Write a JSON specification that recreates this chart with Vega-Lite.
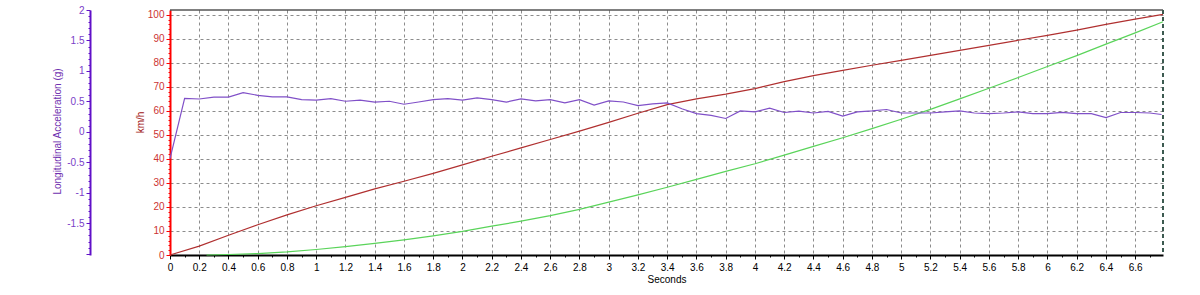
{
  "$schema": "https://vega.github.io/schema/vega-lite/v6.json",
  "width": 993,
  "height": 245,
  "autosize": {"type": "none"},
  "padding": {"left": 170, "top": 10, "right": 37, "bottom": 40},
  "background": "white",
  "config": {
    "view": {"stroke": null},
    "font": "Liberation Sans",
    "axis": {"labelFont": "Liberation Sans", "titleFont": "Liberation Sans", "titleFontWeight": "normal", "labelFontSize": 10, "titleFontSize": 10}
  },
  "datasets": {
    "speed": [
      {"t": 0, "kmh": 0}, {"t": 0.2, "kmh": 3.7}, {"t": 0.4, "kmh": 8.2}, {"t": 0.6, "kmh": 12.6}, {"t": 0.8, "kmh": 16.7},
      {"t": 1, "kmh": 20.5}, {"t": 1.2, "kmh": 24}, {"t": 1.4, "kmh": 27.5}, {"t": 1.6, "kmh": 30.7}, {"t": 1.8, "kmh": 34},
      {"t": 2, "kmh": 37.5}, {"t": 2.2, "kmh": 41.1}, {"t": 2.4, "kmh": 44.6}, {"t": 2.6, "kmh": 48.1}, {"t": 2.8, "kmh": 51.6},
      {"t": 3, "kmh": 55.2}, {"t": 3.2, "kmh": 59}, {"t": 3.4, "kmh": 62.6}, {"t": 3.6, "kmh": 65}, {"t": 3.8, "kmh": 67},
      {"t": 4, "kmh": 69.3}, {"t": 4.2, "kmh": 72.2}, {"t": 4.4, "kmh": 74.7}, {"t": 4.6, "kmh": 76.9}, {"t": 4.8, "kmh": 79},
      {"t": 5, "kmh": 81}, {"t": 5.2, "kmh": 83.1}, {"t": 5.4, "kmh": 85.2}, {"t": 5.6, "kmh": 87.3}, {"t": 5.8, "kmh": 89.4},
      {"t": 6, "kmh": 91.4}, {"t": 6.2, "kmh": 93.6}, {"t": 6.4, "kmh": 96}, {"t": 6.6, "kmh": 98.2}, {"t": 6.79, "kmh": 100.2}
    ],
    "dist": [
      {"t": 0.25, "d": 0}, {"t": 0.4, "d": 0.2}, {"t": 0.6, "d": 0.6}, {"t": 0.8, "d": 1.3},
      {"t": 1, "d": 2.3}, {"t": 1.2, "d": 3.5}, {"t": 1.4, "d": 4.8}, {"t": 1.6, "d": 6.3}, {"t": 1.8, "d": 8},
      {"t": 2, "d": 9.8}, {"t": 2.2, "d": 12}, {"t": 2.4, "d": 14.1}, {"t": 2.6, "d": 16.4}, {"t": 2.8, "d": 19},
      {"t": 3, "d": 22}, {"t": 3.2, "d": 25}, {"t": 3.4, "d": 28.2}, {"t": 3.6, "d": 31.5}, {"t": 3.8, "d": 34.8},
      {"t": 4, "d": 38}, {"t": 4.2, "d": 41.6}, {"t": 4.4, "d": 45.2}, {"t": 4.6, "d": 48.8}, {"t": 4.8, "d": 52.6},
      {"t": 5, "d": 56.5}, {"t": 5.2, "d": 60.6}, {"t": 5.4, "d": 65}, {"t": 5.6, "d": 69.4}, {"t": 5.8, "d": 73.9},
      {"t": 6, "d": 78.5}, {"t": 6.2, "d": 83}, {"t": 6.4, "d": 87.8}, {"t": 6.6, "d": 92.5}, {"t": 6.79, "d": 97.1}
    ],
    "acc": [
      {"t": 0, "g": -0.44}, {"t": 0.1, "g": 0.55}, {"t": 0.2, "g": 0.54}, {"t": 0.3, "g": 0.57}, {"t": 0.4, "g": 0.57},
      {"t": 0.5, "g": 0.645}, {"t": 0.6, "g": 0.6}, {"t": 0.7, "g": 0.575}, {"t": 0.8, "g": 0.575}, {"t": 0.9, "g": 0.53},
      {"t": 1, "g": 0.52}, {"t": 1.1, "g": 0.547}, {"t": 1.2, "g": 0.503}, {"t": 1.3, "g": 0.52}, {"t": 1.4, "g": 0.487},
      {"t": 1.5, "g": 0.503}, {"t": 1.6, "g": 0.454}, {"t": 1.7, "g": 0.49}, {"t": 1.8, "g": 0.53}, {"t": 1.9, "g": 0.545},
      {"t": 2, "g": 0.52}, {"t": 2.1, "g": 0.557}, {"t": 2.2, "g": 0.53}, {"t": 2.3, "g": 0.49}, {"t": 2.4, "g": 0.54},
      {"t": 2.5, "g": 0.51}, {"t": 2.6, "g": 0.53}, {"t": 2.7, "g": 0.475}, {"t": 2.8, "g": 0.53}, {"t": 2.9, "g": 0.44},
      {"t": 3, "g": 0.51}, {"t": 3.1, "g": 0.49}, {"t": 3.2, "g": 0.43}, {"t": 3.3, "g": 0.46}, {"t": 3.4, "g": 0.475},
      {"t": 3.5, "g": 0.38}, {"t": 3.6, "g": 0.3}, {"t": 3.7, "g": 0.27}, {"t": 3.8, "g": 0.22}, {"t": 3.9, "g": 0.344},
      {"t": 4, "g": 0.328}, {"t": 4.1, "g": 0.39}, {"t": 4.2, "g": 0.318}, {"t": 4.3, "g": 0.34}, {"t": 4.4, "g": 0.31},
      {"t": 4.5, "g": 0.335}, {"t": 4.6, "g": 0.26}, {"t": 4.7, "g": 0.328}, {"t": 4.8, "g": 0.344}, {"t": 4.9, "g": 0.367},
      {"t": 5, "g": 0.31}, {"t": 5.1, "g": 0.31}, {"t": 5.2, "g": 0.31}, {"t": 5.3, "g": 0.328}, {"t": 5.4, "g": 0.344},
      {"t": 5.5, "g": 0.31}, {"t": 5.6, "g": 0.3}, {"t": 5.7, "g": 0.31}, {"t": 5.8, "g": 0.328}, {"t": 5.9, "g": 0.3},
      {"t": 6, "g": 0.3}, {"t": 6.1, "g": 0.32}, {"t": 6.2, "g": 0.3}, {"t": 6.3, "g": 0.3}, {"t": 6.4, "g": 0.236},
      {"t": 6.5, "g": 0.318}, {"t": 6.6, "g": 0.318}, {"t": 6.7, "g": 0.31}, {"t": 6.78, "g": 0.285}
    ],
    "edges": [{"t": 6.79, "kmh": 102}]
  },
  "layer": [
    {
      "layer": [
        {
          "data": {"name": "speed"},
          "mark": {"type": "line", "color": "#b03030", "strokeWidth": 1.2},
          "encoding": {
            "x": {
              "field": "t", "type": "quantitative",
              "scale": {"domain": [0, 6.79], "nice": false, "zero": false},
              "axis": {
                "title": "Seconds",
                "tickCount": 1000,
                "values": [0,0.1,0.2,0.3,0.4,0.5,0.6,0.7,0.8,0.9,1,1.1,1.2,1.3,1.4,1.5,1.6,1.7,1.8,1.9,2,2.1,2.2,2.3,2.4,2.5,2.6,2.7,2.8,2.9,3,3.1,3.2,3.3,3.4,3.5,3.6,3.7,3.8,3.9,4,4.1,4.2,4.3,4.4,4.5,4.6,4.7,4.8,4.9,5,5.1,5.2,5.3,5.4,5.5,5.6,5.7,5.8,5.9,6,6.1,6.2,6.3,6.4,6.5,6.6,6.7],
                "labelExpr": "abs(datum.value*5 - round(datum.value*5)) < 0.001 ? '' + datum.value : ''",
                "labelColor": "#000000",
                "labelPadding": 3,
                "labelFlush": false,
                "labelOverlap": false,
                "domainColor": "#000000",
                "domainWidth": 2,
                "tickColor": "#000000",
                "tickSize": {"condition": {"test": "abs(datum.value*5 - round(datum.value*5)) < 0.001", "value": 4}, "value": 2},
                "grid": true,
                "gridColor": "#8c8c8c",
                "gridDash": [3, 3],
                "gridWidth": 1,
                "gridOpacity": {"condition": {"test": "abs(datum.value*5 - round(datum.value*5)) < 0.001 && datum.value > 0", "value": 1}, "value": 0},
                "titleColor": "#000000",
                "titlePadding": 2
              }
            },
            "y": {
              "field": "kmh", "type": "quantitative",
              "scale": {"domain": [0, 102], "nice": false, "zero": true},
              "axis": {
                "title": "km/h",
                "orient": "left",
                "tickCount": 1000,
                "values": [0,2,4,6,8,10,12,14,16,18,20,22,24,26,28,30,32,34,36,38,40,42,44,46,48,50,52,54,56,58,60,62,64,66,68,70,72,74,76,78,80,82,84,86,88,90,92,94,96,98,100],
                "labelExpr": "datum.value % 10 == 0 ? '' + datum.value : ''",
                "labelColor": "#cc3333",
                "labelPadding": 2,
                "labelOverlap": false,
                "domainColor": "#ff0000",
                "domainWidth": 2,
                "tickColor": "#ff0000",
                "tickSize": {"condition": {"test": "datum.value % 10 == 0", "value": 4}, "value": 2},
                "grid": true,
                "gridColor": "#8c8c8c",
                "gridDash": [3, 3],
                "gridOpacity": {"condition": {"test": "datum.value % 10 == 0 && datum.value > 0", "value": 1}, "value": 0},
                "titleColor": "#a01010",
                "titleX": -30,
                "titleY": 112,
                "titleAngle": -90,
                "titleAlign": "center",
                "titleBaseline": "middle"
              }
            }
          }
        },
        {
          "data": {"name": "dist"},
          "mark": {"type": "line", "color": "#5ad45a", "strokeWidth": 1.2},
          "encoding": {
            "x": {"field": "t", "type": "quantitative"},
            "y": {"field": "d", "type": "quantitative"}
          }
        },
        {
          "data": {"name": "edges"},
          "mark": {"type": "rule", "color": "#000000", "strokeWidth": 1},
          "encoding": {
            "y": {"field": "kmh", "type": "quantitative"}
          }
        },
        {
          "data": {"name": "edges"},
          "mark": {"type": "rule", "color": "#3c5a50", "strokeWidth": 2, "strokeDash": [4, 3]},
          "encoding": {
            "x": {"field": "t", "type": "quantitative"}
          }
        }
      ]
    },
    {
      "data": {"name": "acc"},
      "mark": {"type": "line", "color": "#8050c8", "strokeWidth": 1.2},
      "encoding": {
        "x": {"field": "t", "type": "quantitative"},
        "y": {
          "field": "g", "type": "quantitative",
          "scale": {"domain": [-2.02, 2.0], "nice": false, "zero": false},
          "axis": {
            "title": "Longitudinal Acceleration (g)",
            "orient": "left",
            "offset": 80,
            "tickCount": 1000,
            "values": [-2,-1.9,-1.8,-1.7,-1.6,-1.5,-1.4,-1.3,-1.2,-1.1,-1,-0.9,-0.8,-0.7,-0.6,-0.5,-0.4,-0.3,-0.2,-0.1,0,0.1,0.2,0.3,0.4,0.5,0.6,0.7,0.8,0.9,1,1.1,1.2,1.3,1.4,1.5,1.6,1.7,1.8,1.9,2],
            "labelExpr": "abs(datum.value*2 - round(datum.value*2)) < 0.001 && datum.value > -1.99 ? '' + datum.value : ''",
            "labelColor": "#7a40c8",
            "labelPadding": 2,
            "labelOverlap": false,
            "domainColor": "#6010c8",
            "domainWidth": 2,
            "tickColor": "#6010c8",
            "tickSize": {"condition": {"test": "abs(datum.value*2 - round(datum.value*2)) < 0.001", "value": 4}, "value": 2},
            "grid": false,
            "titleColor": "#7030b0",
            "titleX": -33,
            "titleY": 121,
            "titleAngle": -90,
            "titleAlign": "center",
            "titleBaseline": "middle"
          }
        }
      }
    }
  ],
  "resolve": {"scale": {"y": "independent"}}
}
